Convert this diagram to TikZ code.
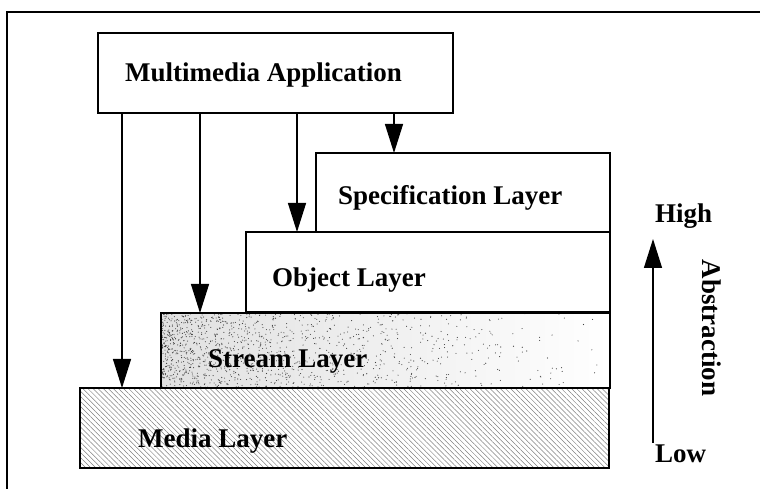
\documentclass[tikz,border=0pt]{standalone}
\usepackage{fontspec}
\setmainfont{Liberation Serif}
\usetikzlibrary{arrows.meta,patterns.meta}

\tikzset{
  box/.style={draw=black, line width=1.6pt, inner sep=0pt, outer sep=0pt, fill=white},
  lbl/.style={font=\fontsize{27}{32}\selectfont\bfseries, inner sep=0pt, anchor=base west},
  bigtip/.style={-{Triangle[length=29pt,width=18pt]}},
  down/.style={line width=1.3pt, bigtip},
  frameline/.style={line width=1.4pt}
}

\begin{document}
\begin{tikzpicture}[x=1pt,y=1pt]
  \useasboundingbox (0,0) rectangle (760,489);

  % outer frame (top and left edges)
  \draw[frameline] (7,0) -- (7,477) -- (760,477);

  % the layer stack
  \node[box, minimum width=529pt, minimum height=80pt,
        pattern={Lines[angle=-45,distance=3.6pt,line width=0.5pt]},
        pattern color=black!50] (media) at (344.5,61) {};
  \node[box, minimum width=449pt, minimum height=75pt,
        left color=black!12, right color=white] (stream) at (385.5,138.5) {};
  \begin{scope}
    \clip (stream.south west) rectangle (stream.north east);
    \pgfmathsetseed{42}
    \foreach \i in {1,...,1300}{
      \pgfmathsetmacro{\rx}{161+449*rnd*rnd}
      \pgfmathsetmacro{\ry}{101+75*rnd}
      \fill[black!75] (\rx,\ry) circle[radius=0.55];
    }
  \end{scope}
  \draw[line width=1.6pt] (stream.south west) rectangle (stream.north east);
  \node[box, minimum width=364pt, minimum height=80pt] (object) at (428,217) {};
  \node[box, minimum width=294pt, minimum height=79pt] (spec) at (463,296.5) {};
  \node[box, minimum width=355pt, minimum height=80pt] (app) at (275.5,416) {};

  % labels
  \node[lbl] (tapp)    at (125,407) {Multimedia Application};
  \node[lbl] (tspec)   at (338,284) {Specification Layer};
  \node[lbl] (tobject) at (272,202) {Object Layer};
  \node[lbl] (tstream) at (208,121) {Stream Layer};
  \node[lbl] (tmedia)  at (138,41)  {Media Layer};

  % calls from the application down to each layer
  \coordinate (c1) at (122,376);
  \coordinate (c2) at (200,376);
  \coordinate (c3) at (297,376);
  \coordinate (c4) at (394,376);
  \draw[down] (c1) -- (c1 |- media.north);
  \draw[down] (c2) -- (c2 |- stream.north);
  \draw[down] (c3) -- (c3 |- object.north);
  \draw[down] (c4) -- (c4 |- spec.north);

  % abstraction scale
  \node[lbl] (high) at (655,266) {High};
  \node[lbl] (low)  at (655,26)  {Low};
  \coordinate (lowend)  at (653,46);
  \coordinate (highend) at (653,250);
  \draw[down] (lowend) -- (highend);
  \node[font=\fontsize{27}{32}\selectfont\bfseries, inner sep=0pt, rotate=-90] (abs) at (712,161) {Abstraction};
\end{tikzpicture}
\end{document}
